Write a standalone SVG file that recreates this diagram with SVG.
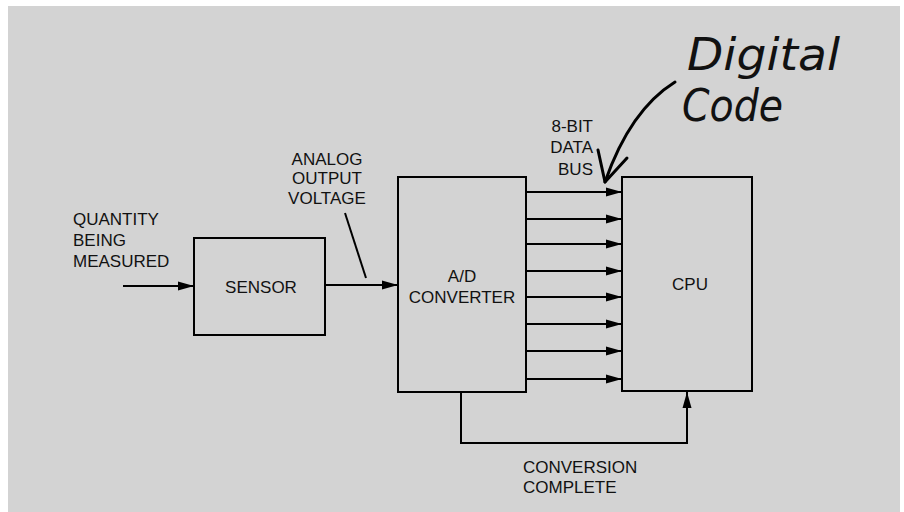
<svg xmlns="http://www.w3.org/2000/svg" width="904" height="512" viewBox="0 0 904 512">
<style>
.box{fill:none;stroke:#000;stroke-width:2}
.ln{fill:none;stroke:#000;stroke-width:2}
.t{font-family:"Liberation Sans",Arial,sans-serif;font-size:17px;fill:#111}
.hw{font-family:"DejaVu Sans","Liberation Sans",sans-serif;font-style:oblique;font-size:44px;fill:#111}
</style>
<defs>
<marker id="ah" viewBox="0 0 16 10" refX="16" refY="5" markerWidth="16" markerHeight="10" markerUnits="userSpaceOnUse" orient="auto">
<path d="M0,0.5 L16,5 L0,9.5 Z" fill="#000"/>
</marker>
</defs>
<rect x="0" y="0" width="904" height="512" fill="#ffffff"/>
<rect x="8" y="6" width="892" height="506" fill="#d3d3d3"/>
<g id="sensor">
<rect class="box" x="194" y="238" width="131" height="97"/>
<text class="t" x="261" y="293" text-anchor="middle">SENSOR</text>
</g>
<g id="adc">
<rect class="box" x="398" y="177" width="128" height="215"/>
<text class="t" x="462" y="282" text-anchor="middle">A/D</text>
<text class="t" x="462" y="303" text-anchor="middle">CONVERTER</text>
</g>
<g id="cpu">
<rect class="box" x="622" y="177" width="130" height="214"/>
<text class="t" x="690" y="290" text-anchor="middle">CPU</text>
</g>
<g id="labels">
<text class="t" x="73" y="225">QUANTITY</text>
<text class="t" x="73" y="246">BEING</text>
<text class="t" x="73" y="267">MEASURED</text>
<text class="t" x="327" y="165" text-anchor="middle">ANALOG</text>
<text class="t" x="327" y="184" text-anchor="middle">OUTPUT</text>
<text class="t" x="327" y="204" text-anchor="middle">VOLTAGE</text>
<text class="t" x="593" y="132" text-anchor="end">8-BIT</text>
<text class="t" x="593" y="153" text-anchor="end">DATA</text>
<text class="t" x="593" y="175" text-anchor="end">BUS</text>
<text class="t" x="523" y="473">CONVERSION</text>
<text class="t" x="523" y="493">COMPLETE</text>
<text class="hw" x="687" y="70" textLength="153" lengthAdjust="spacingAndGlyphs">Digital</text>
<text class="hw" x="682" y="121" textLength="101" lengthAdjust="spacingAndGlyphs">Code</text>
</g>
<g id="connectors">
<line class="ln" x1="123" y1="286" x2="194" y2="286" marker-end="url(#ah)"/>
<line class="ln" x1="325" y1="285" x2="398" y2="285" marker-end="url(#ah)"/>
<line class="ln" x1="345" y1="213" x2="366" y2="278"/>
<line class="ln" x1="526" y1="192" x2="622" y2="192" marker-end="url(#ah)"/>
<line class="ln" x1="526" y1="219" x2="622" y2="219" marker-end="url(#ah)"/>
<line class="ln" x1="526" y1="244" x2="622" y2="244" marker-end="url(#ah)"/>
<line class="ln" x1="526" y1="271" x2="622" y2="271" marker-end="url(#ah)"/>
<line class="ln" x1="526" y1="297" x2="622" y2="297" marker-end="url(#ah)"/>
<line class="ln" x1="526" y1="324" x2="622" y2="324" marker-end="url(#ah)"/>
<line class="ln" x1="526" y1="351" x2="622" y2="351" marker-end="url(#ah)"/>
<line class="ln" x1="526" y1="379" x2="622" y2="379" marker-end="url(#ah)"/>
<polyline class="ln" points="461,392 461,443 687,443 687,392" marker-end="url(#ah)"/>
<path d="M675,82 Q630,110 605,182" fill="none" stroke="#000" stroke-width="3" stroke-linecap="round"/>
<path d="M598,150 L605,182 L627,158" fill="none" stroke="#000" stroke-width="3" stroke-linecap="round" stroke-linejoin="round"/>
</g>
</svg>
